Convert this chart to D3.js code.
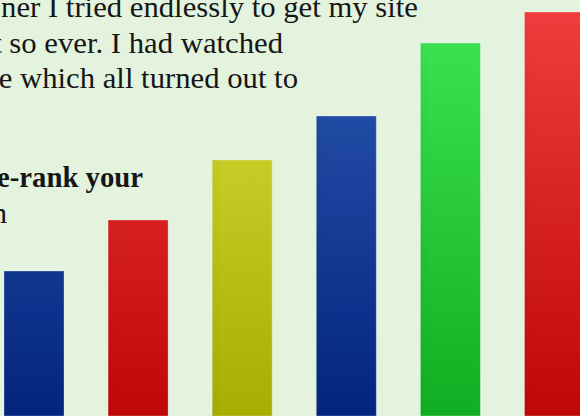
<!DOCTYPE html>
<html>
<head>
<meta charset="utf-8">
<script src="https://cdn.jsdelivr.net/npm/d3@7"></script>
<style>
  html, body { margin: 0; padding: 0; background: #e3f3de; }
  svg { display: block; }
</style>
</head>
<body>
<svg id="chart" width="580" height="416"></svg>
<script>
// Bars in the picture, left to right
const categories = ['A', 'B', 'C', 'D', 'E', 'F'];
const values = [145, 196, 256, 300, 373, 404];

// Background paragraph text (cut off at the left edge)
const textLines = [
  'ner I tried endlessly to get my site',
  't so ever. I had watched',
  'e which all turned out to',
  'e-rank your',
  'n'
];

const width = 580;
const height = 416;

// top / bottom colour of each bar's gradient
const barTop = ['#2d5ab2', '#f23e3e', '#d9e03e', '#2d5ab2', '#40e656', '#f23e3e'];
const barBottom = ['#03247f', '#be0707', '#a6ae02', '#03247f', '#10ae22', '#be0707'];

const svg = d3.select('#chart');

const x = d3.scaleBand()
  .domain(categories)
  .range([4, 4 + 5 * 104.1 + 60])
  .paddingInner(44.1 / 104.1)
  .paddingOuter(0);

const y = d3.scaleLinear()
  .domain([0, 416])
  .range([height, 0]);

const defs = svg.append('defs');

categories.forEach((c, i) => {
  const g = defs.append('linearGradient')
    .attr('id', `grad${i}`)
    .attr('gradientUnits', 'userSpaceOnUse')
    .attr('x1', 0).attr('y1', 0)
    .attr('x2', 0).attr('y2', height);
  g.append('stop').attr('offset', '0%').attr('stop-color', barTop[i]);
  g.append('stop').attr('offset', '100%').attr('stop-color', barBottom[i]);
});

// very faint vertical sheen across each bar
const sheen = defs.append('linearGradient')
  .attr('id', 'sheen')
  .attr('x1', 0).attr('y1', 0)
  .attr('x2', 1).attr('y2', 0);
sheen.append('stop').attr('offset', '0%').attr('stop-color', '#000').attr('stop-opacity', 0.03);
sheen.append('stop').attr('offset', '15%').attr('stop-color', '#000').attr('stop-opacity', 0.0);
sheen.append('stop').attr('offset', '100%').attr('stop-color', '#000').attr('stop-opacity', 0.0);

// text sits behind the bars
const textY = [17, 53, 88, 187, 223];
const textEnd = [418, 283, 298, 143, 7];

const texts = svg.append('g')
  .selectAll('text')
  .data(textLines)
  .join('text')
  .attr('text-anchor', 'end')
  .attr('font-family', '"Liberation Serif", serif')
  .attr('font-size', '29px')
  .attr('font-weight', (d, i) => i === 3 ? 'bold' : 'normal')
  .attr('fill', '#161616')
  .text(d => d);

// widen the glyphs a bit so the first line spans its width in the picture
const firstLen = texts.node().getComputedTextLength();
const k = 417 / firstLen;
// the bold line keeps its leading "e" just inside the left edge
const boldLen = texts.filter((d, i) => i === 3).node().getComputedTextLength();
const kb = Math.min(k, 146 / boldLen);
texts.attr('transform', (d, i) =>
  `translate(${textEnd[i]},${textY[i]}) scale(${i === 3 ? kb : k},1)`);

const bars = svg.append('g');

bars.selectAll('rect.bar')
  .data(values)
  .join('rect')
  .attr('class', 'bar')
  .attr('x', (d, i) => x(categories[i]))
  .attr('y', d => y(d))
  .attr('width', x.bandwidth())
  .attr('height', d => y(0) - y(d))
  .attr('fill', (d, i) => `url(#grad${i})`)
  .attr('stroke', '#ffffff')
  .attr('stroke-opacity', 0.3)
  .attr('stroke-width', 1);

bars.selectAll('rect.sheen')
  .data(values)
  .join('rect')
  .attr('class', 'sheen')
  .attr('x', (d, i) => x(categories[i]))
  .attr('y', d => y(d))
  .attr('width', x.bandwidth())
  .attr('height', d => y(0) - y(d))
  .attr('fill', 'url(#sheen)');
</script>
</body>
</html>
